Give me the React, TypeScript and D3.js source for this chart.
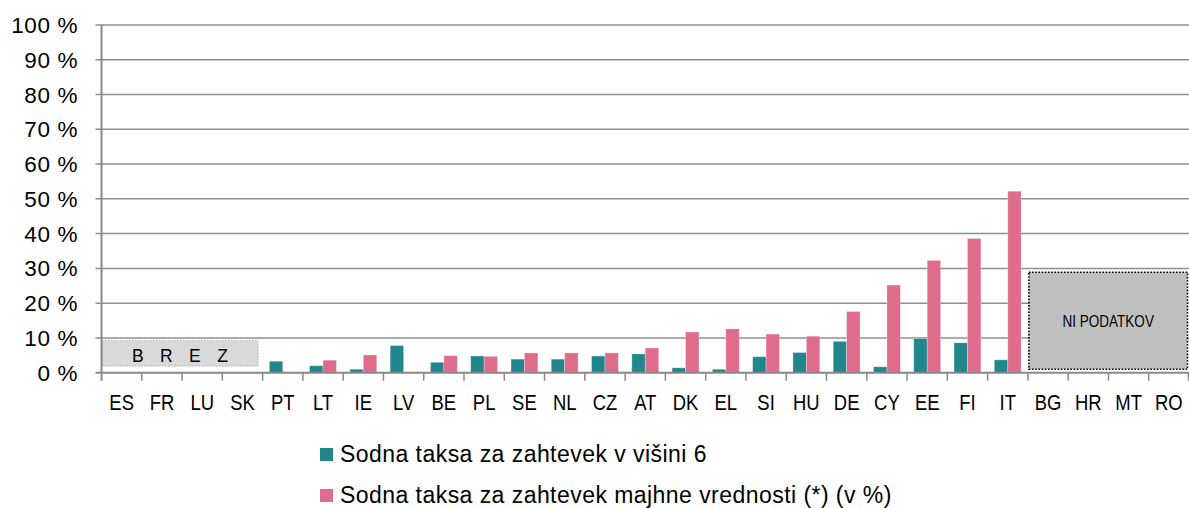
import React, { useEffect, useRef } from 'react'
import * as d3 from 'd3'

const countries = ['ES', 'FR', 'LU', 'SK', 'PT', 'LT', 'IE', 'LV', 'BE', 'PL', 'SE', 'NL', 'CZ', 'AT', 'DK', 'EL', 'SI', 'HU', 'DE', 'CY', 'EE', 'FI', 'IT', 'BG', 'HR', 'MT', 'RO']
const taksa6 = [null, null, null, null, 3.3, 2.0, 1.0, 7.8, 3.0, 4.8, 3.9, 3.9, 4.8, 5.4, 1.4, 1.0, 4.6, 5.8, 9.0, 1.7, 9.8, 8.6, 3.7, null, null, null, null]
const taksaMajhne = [null, null, null, null, 0, 3.6, 5.1, 0, 4.9, 4.7, 5.7, 5.7, 5.7, 7.1, 11.7, 12.6, 11.1, 10.5, 17.6, 25.2, 32.3, 38.6, 52.2, null, null, null, null]
const seriesNames = ['Sodna taksa za zahtevek v višini 6', 'Sodna taksa za zahtevek majhne vrednosti (*) (v %)']
const seriesColors = ['#21878c', '#e06c8c']
const yTicks = [0, 10, 20, 30, 40, 50, 60, 70, 80, 90, 100]

// annotation boxes: category span and value span
const brez = { text: 'B R E Z', from: 'ES', to: 'SK', low: 1.9, high: 9.2 }
const niPodatkov = { text: 'NI PODATKOV', from: 'BG', to: 'RO', low: 1.0, high: 28.9 }

export default function App() {
  const ref = useRef<SVGSVGElement>(null)

  useEffect(() => {
    const w = 1189
    const h = 508
    const margin = { top: 25, right: 0, bottom: 135, left: 101.5 }
    const svg = d3.select(ref.current).attr('width', w).attr('height', h)
    svg.selectAll('*').remove()

    const x0 = d3.scaleBand<string>().domain(countries).range([margin.left, w - margin.right]).paddingInner(0).paddingOuter(0)
    const x1 = d3.scaleBand<number>().domain([0, 1]).range([0, x0.bandwidth()]).paddingInner(0).paddingOuter(0.5)
    const y = d3.scaleLinear().domain([0, 100]).range([h - margin.bottom - 0.3, margin.top])

    const font = 'Arial, "Liberation Sans", sans-serif'
    const squeeze = 0.82 // glyphs in the original are condensed

    // gridlines
    svg.append('g').selectAll('line').data(yTicks.slice(1)).join('line')
      .attr('x1', margin.left - 6).attr('x2', w).attr('y1', d => y(d)).attr('y2', d => y(d))
      .attr('stroke', '#8f8f8f').attr('stroke-width', 1.5)

    // y labels
    svg.append('g').selectAll('text').data(yTicks).join('text')
      .attr('x', 78).attr('y', d => y(d) + 8)
      .attr('text-anchor', 'end').attr('font-family', font).attr('font-size', 22.5).attr('letter-spacing', 0.6)
      .attr('fill', '#000').text(d => `${d} %`)

    // bars
    const series = [taksa6, taksaMajhne]
    series.forEach((vals, si) => {
      svg.append('g').selectAll('rect').data(countries.map((c, i) => ({ c, v: vals[i] })).filter(d => d.v)).join('rect')
        .attr('x', d => (x0(d.c) as number) + (x1(si) as number))
        .attr('width', x1.bandwidth())
        .attr('y', d => y(d.v as number))
        .attr('height', d => y(0) - y(d.v as number))
        .attr('fill', seriesColors[si])
        .attr('stroke', '#ffffff').attr('stroke-opacity', 0.35).attr('stroke-width', 0.8)
    })

    // annotation boxes
    const b1x = x0(brez.from) as number
    const b1x2 = (x0(brez.to) as number) + x0.bandwidth() - 4.5
    svg.append('rect').attr('x', b1x + 0.5).attr('width', b1x2 - b1x - 0.5)
      .attr('y', y(brez.high)).attr('height', y(brez.low) - y(brez.high))
      .attr('fill', '#d9d9d9').attr('stroke', '#b0b0b0').attr('stroke-width', 1).attr('stroke-dasharray', '1.5,1.5')
    svg.append('text').attr('x', (b1x + b1x2) / 2 + 3).attr('y', y(brez.low) - 4.5)
      .attr('text-anchor', 'middle').attr('font-family', font).attr('font-size', 17.5).attr('letter-spacing', 5.8)
      .attr('fill', '#000').text(brez.text)

    const b2x = (x0(niPodatkov.from) as number) + 1
    const b2x2 = (x0(niPodatkov.to) as number) + x0.bandwidth() - 1.5
    svg.append('rect').attr('x', b2x).attr('width', b2x2 - b2x)
      .attr('y', y(niPodatkov.high)).attr('height', y(niPodatkov.low) - y(niPodatkov.high))
      .attr('fill', '#c0c0c0').attr('stroke', '#000').attr('stroke-width', 1.6).attr('stroke-dasharray', '1.6,1.6')
    svg.append('text')
      .attr('transform', `translate(${(b2x + b2x2) / 2}, ${(y(niPodatkov.high) + y(niPodatkov.low)) / 2 + 6}) scale(${squeeze}, 1)`)
      .attr('text-anchor', 'middle').attr('font-family', font).attr('font-size', 16.5)
      .attr('fill', '#000').text(niPodatkov.text)

    // axes
    svg.append('line').attr('x1', margin.left).attr('x2', margin.left).attr('y1', margin.top).attr('y2', y(0) + 8)
      .attr('stroke', '#898989').attr('stroke-width', 2)
    svg.append('line').attr('x1', margin.left - 6).attr('x2', w).attr('y1', y(0)).attr('y2', y(0))
      .attr('stroke', '#898989').attr('stroke-width', 2)
    svg.append('g').selectAll('line').data(countries.slice(1).concat(['__end'])).join('line')
      .attr('x1', d => d === '__end' ? w - 0.5 : (x0(d) as number)).attr('x2', d => d === '__end' ? w - 0.5 : (x0(d) as number))
      .attr('y1', y(0)).attr('y2', y(0) + 8)
      .attr('stroke', '#898989').attr('stroke-width', 1.5)

    // x labels
    svg.append('g').selectAll('text').data(countries).join('text')
      .attr('transform', d => `translate(${(x0(d) as number) + x0.bandwidth() / 2}, 409.5) scale(${squeeze}, 1)`)
      .attr('text-anchor', 'middle').attr('font-family', font).attr('font-size', 22.5)
      .attr('fill', '#000').text(d => d)

    // legend
    const lg = svg.append('g').selectAll('g').data(seriesNames).join('g')
      .attr('transform', (d, i) => `translate(320, ${448 + i * 41})`)
    lg.append('rect').attr('width', 13).attr('height', 13).attr('fill', (d, i) => seriesColors[i])
    lg.append('text').attr('x', 20).attr('y', 13.5)
      .attr('font-family', font).attr('font-size', 23).attr('letter-spacing', 0.45)
      .attr('fill', '#000').text(d => d)
  }, [])

  return (
    <svg ref={ref} style={{ position: 'absolute', left: 0, top: 0, background: '#fff' }}></svg>
  )
}
